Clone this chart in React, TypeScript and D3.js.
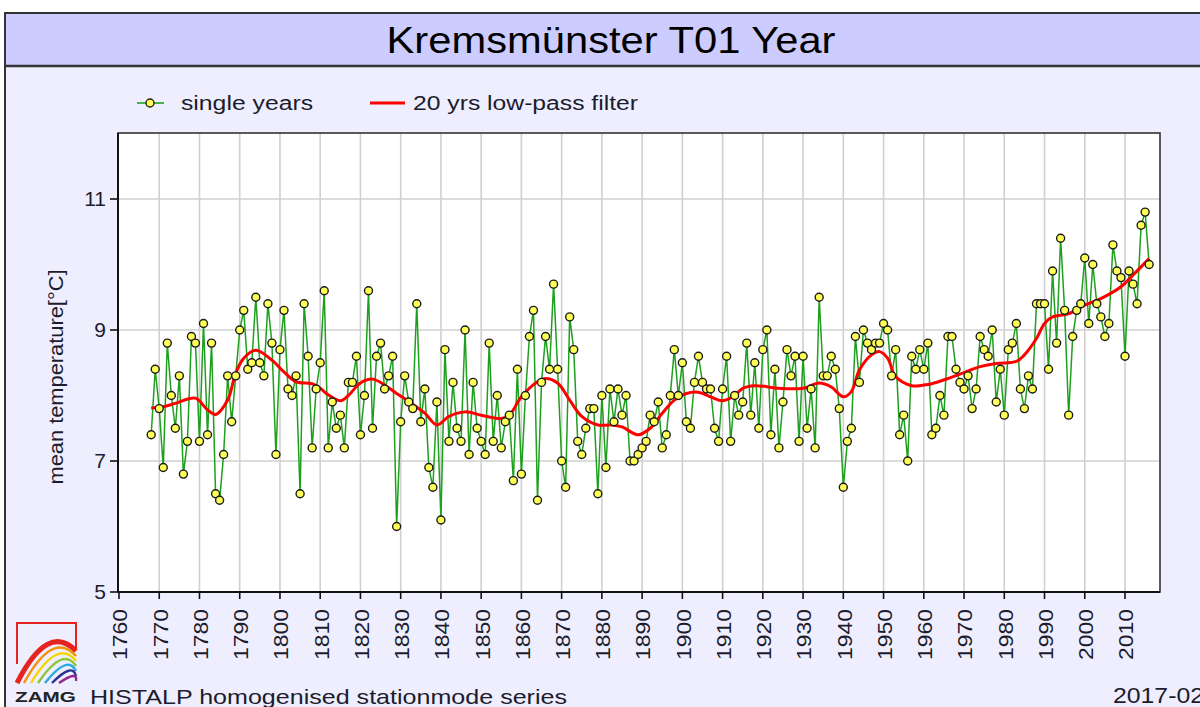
import React from "react";
import * as d3 from "d3";

const START_YEAR = 1768;
// annual mean temperature, 1768..2016
const annualMeans = [
  7.4, 8.4, 7.8, 6.9, 8.8, 8.0, 7.5, 8.3, 6.8, 7.3, 8.9, 8.8,
  7.3, 9.1, 7.4, 8.8, 6.5, 6.4, 7.1, 8.3, 7.6, 8.3,
  9.0, 9.3, 8.4, 8.5, 9.5, 8.5, 8.3, 9.4, 8.8, 7.1,
  8.7, 9.3, 8.1, 8.0, 8.3, 6.5, 9.4, 8.6, 7.2, 8.1,
  8.5, 9.6, 7.2, 7.9, 7.5, 7.7, 7.2, 8.2, 8.2, 8.6,
  7.4, 8.0, 9.6, 7.5, 8.6, 8.8, 8.1, 8.3, 8.6, 6.0,
  7.6, 8.3, 7.9, 7.8, 9.4, 7.6, 8.1, 6.9, 6.6, 7.9,
  6.1, 8.7, 7.3, 8.2, 7.5, 7.3, 9.0, 7.1, 8.2, 7.5,
  7.3, 7.1, 8.8, 7.3, 8.0, 7.2, 7.6, 7.7, 6.7, 8.4,
  6.8, 8.0, 8.9, 9.3, 6.4, 8.2, 8.9, 8.4, 9.7, 8.4,
  7.0, 6.6, 9.2, 8.7, 7.3, 7.1, 7.5, 7.8, 7.8, 6.5,
  8.0, 6.9, 8.1, 7.6, 8.1, 7.7, 8.0, 7.0, 7.0, 7.1,
  7.2, 7.3, 7.7, 7.6, 7.9, 7.2, 7.4, 8.0, 8.7, 8.0,
  8.5, 7.6, 7.5, 8.2, 8.6, 8.2, 8.1, 8.1, 7.5, 7.3,
  8.1, 8.6, 7.3, 8.0, 7.7, 7.9, 8.8, 7.7, 8.5, 7.5,
  8.7, 9.0, 7.4, 8.4, 7.2, 7.9, 8.7, 8.3, 8.6, 7.3,
  8.6, 7.5, 8.1, 7.2, 9.5, 8.3, 8.3, 8.6, 8.4, 7.8,
  6.6, 7.3, 7.5, 8.9, 8.2, 9.0, 8.8, 8.7, 8.8, 8.8,
  9.1, 9.0, 8.3, 8.7, 7.4, 7.7, 7.0, 8.6, 8.4, 8.7,
  8.4, 8.8, 7.4, 7.5, 8.0, 7.7, 8.9, 8.9, 8.4, 8.2,
  8.1, 8.3, 7.8, 8.1, 8.9, 8.7, 8.6, 9.0, 7.9, 8.4,
  7.7, 8.7, 8.8, 9.1, 8.1, 7.8, 8.3, 8.1, 9.4, 9.4,
  9.4, 8.4, 9.9, 8.8, 10.4, 9.3, 7.7, 8.9, 9.3, 9.4,
  10.1, 9.1, 10.0, 9.4, 9.2, 8.9, 9.1, 10.3, 9.9, 9.8,
  8.6, 9.9, 9.7, 9.4, 10.6, 10.8, 10.0,
];

// 20 yrs low-pass filter
const filterYears = [
  1768, 1771, 1774, 1779, 1782, 1784, 1787, 1789, 1791, 1794, 1798, 1801, 1804,
  1808, 1810, 1812, 1815, 1817, 1820, 1823, 1826, 1829, 1832, 1836, 1839, 1842,
  1846, 1850, 1855, 1857, 1860, 1864, 1866, 1869, 1872, 1875, 1879, 1882, 1885,
  1889, 1892, 1895, 1898, 1901, 1904, 1907, 1910, 1913, 1915, 1918, 1924, 1930,
  1934, 1937, 1940, 1942, 1944, 1947, 1949, 1951, 1953, 1957, 1960, 1962, 1966,
  1970, 1974, 1978, 1983, 1985, 1988, 1990, 1992, 1996, 2000, 2004, 2009, 2012,
  2016,
];
const filterValues = [
  7.81, 7.83, 7.88, 7.96, 7.78, 7.71, 7.93, 8.34, 8.57, 8.69, 8.54, 8.36, 8.21,
  8.18, 8.11, 8.01, 7.92, 8.0, 8.19, 8.25, 8.16, 8.03, 7.91, 7.73, 7.55, 7.68,
  7.75, 7.7, 7.65, 7.7, 7.98, 8.21, 8.26, 8.19, 7.93, 7.68, 7.55, 7.55, 7.52,
  7.4, 7.5, 7.73, 7.93, 8.03, 8.05, 7.98, 7.92, 8.0, 8.11, 8.15, 8.11, 8.11,
  8.19, 8.13, 7.98, 8.06, 8.39, 8.62, 8.67, 8.57, 8.29, 8.15, 8.16, 8.18, 8.26,
  8.35, 8.44, 8.49, 8.52, 8.62, 8.87, 9.1, 9.2, 9.25, 9.38, 9.48, 9.66, 9.84,
  10.09,
];

const xTickYears = [
  1760, 1770, 1780, 1790, 1800, 1810, 1820, 1830, 1840, 1850, 1860, 1870, 1880,
  1890, 1900, 1910, 1920, 1930, 1940, 1950, 1960, 1970, 1980, 1990, 2000, 2010,
];
const yTicks = [5, 7, 9, 11];

const FONT = "'Liberation Sans', Arial, sans-serif";
const TEXT = "#1c1c2c";

export default function App() {
  const plot = { left: 118, right: 1160, top: 133, bottom: 592 };
  const x = d3.scaleLinear().domain([1760, 2010]).range([119, 1125]);
  const y = d3.scaleLinear().domain([5, 11]).range([592, 199]);

  const pts: [number, number][] = annualMeans.map((v, i) => [START_YEAR + i, v]);
  const filt: [number, number][] = filterYears.map((yr, i) => [yr, filterValues[i]]);

  const line = d3
    .line<[number, number]>()
    .x((d) => x(d[0]))
    .y((d) => y(d[1]));
  const smooth = d3
    .line<[number, number]>()
    .x((d) => x(d[0]))
    .y((d) => y(d[1]))
    .curve(d3.curveCatmullRom.alpha(0.5));

  const rainbow = ["#e52421", "#f39200", "#f6d600", "#8cc63f", "#29abe2", "#2e3192", "#93278f"];

  return (
    <div style={{ position: "absolute", left: 0, top: 0 }}>
      <svg width={1200} height={707} style={{ display: "block" }}>
        <rect x={0} y={0} width={1200} height={707} fill="#ffffff" />
        {/* frame */}
        <rect x={5} y={13} width={1210} height={710} fill="#eeeeff" stroke="#333" strokeWidth={2} />
        <rect x={6} y={14} width={1200} height={52} fill="#ccccff" />
        <line x1={5} x2={1200} y1={66} y2={66} stroke="#333" strokeWidth={2.5} />
        <text
          x={611}
          y={53}
          textAnchor="middle"
          fontFamily={FONT}
          fontSize={37}
          fill="#000"
          textLength={449}
          lengthAdjust="spacingAndGlyphs"
        >
          Kremsmünster T01 Year
        </text>

        {/* legend */}
        <line x1={137} x2={164} y1={103} y2={103} stroke="#22a022" strokeWidth={1.6} />
        <circle cx={150} cy={103} r={4} fill="#ffff55" stroke="#222" strokeWidth={1.4} />
        <text x={181} y={110} fontFamily={FONT} fontSize={20} fill={TEXT} textLength={132} lengthAdjust="spacingAndGlyphs">
          single years
        </text>
        <line x1={370} x2={405} y1={103} y2={103} stroke="#ff0000" strokeWidth={3.2} />
        <text x={413} y={110} fontFamily={FONT} fontSize={20} fill={TEXT} textLength={225} lengthAdjust="spacingAndGlyphs">
          20 yrs low-pass filter
        </text>

        {/* plot area */}
        <rect
          x={plot.left}
          y={plot.top}
          width={plot.right - plot.left}
          height={plot.bottom - plot.top}
          fill="#ffffff"
        />
        {xTickYears
          .filter((t) => t > 1760)
          .map((t) => (
            <line key={"gx" + t} x1={x(t)} x2={x(t)} y1={plot.top} y2={plot.bottom} stroke="#d0d0d0" strokeWidth={1.6} />
          ))}
        {yTicks
          .filter((t) => t > 5)
          .map((t) => (
            <line key={"gy" + t} x1={plot.left} x2={plot.right} y1={y(t)} y2={y(t)} stroke="#d0d0d0" strokeWidth={1.6} />
          ))}
        <rect
          x={plot.left}
          y={plot.top}
          width={plot.right - plot.left}
          height={plot.bottom - plot.top}
          fill="none"
          stroke="#333"
          strokeWidth={1.6}
        />
        <line x1={plot.left} x2={plot.right} y1={plot.bottom} y2={plot.bottom} stroke="#111" strokeWidth={2} />
        <line x1={plot.left} x2={plot.left} y1={plot.top} y2={plot.bottom} stroke="#111" strokeWidth={2} />

        {/* series */}
        <path d={line(pts) || ""} fill="none" stroke="#1ea01e" strokeWidth={1.5} />
        <path d={smooth(filt) || ""} fill="none" stroke="#ff0000" strokeWidth={3} />
        {pts.map((d) => (
          <circle key={"p" + d[0]} cx={x(d[0])} cy={y(d[1])} r={4} fill="#ffff55" stroke="#1a1a1a" strokeWidth={1.4} />
        ))}

        {/* x axis */}
        {xTickYears.map((t) => (
          <g key={"xt" + t}>
            <line x1={x(t)} x2={x(t)} y1={plot.bottom} y2={plot.bottom + 7} stroke="#111" strokeWidth={1.6} />
            <text
              transform={`translate(${x(t) + 1},${609}) rotate(-90)`}
              textAnchor="end"
              dy="0.35em"
              fontFamily={FONT}
              fontSize={21}
              fill={TEXT}
              textLength={51}
              lengthAdjust="spacingAndGlyphs"
            >
              {t}
            </text>
          </g>
        ))}

        {/* y axis */}
        {yTicks.map((t) => (
          <g key={"yt" + t}>
            <line x1={plot.left - 8} x2={plot.left} y1={y(t)} y2={y(t)} stroke="#111" strokeWidth={1.6} />
            <text x={106} y={y(t)} dy="0.35em" textAnchor="end" fontFamily={FONT} fontSize={21} fill={TEXT}>
              {t}
            </text>
          </g>
        ))}
        <text
          transform="translate(56,377) rotate(-90)"
          textAnchor="middle"
          dy="0.35em"
          fontFamily={FONT}
          fontSize={20}
          fill={TEXT}
          textLength={215}
          lengthAdjust="spacingAndGlyphs"
        >
          mean temperature[°C]
        </text>

        {/* logo */}
        <path d="M17,664 V623 H76 V648" fill="none" stroke="#e52421" strokeWidth={2} />
        {rainbow.map((c, i) => (
          <path
            key={"rb" + i}
            d={`M${17 + i * 7},${683} Q${48 + i * 5},${622 + i * 8} ${76},${651 + i * 5}`}
            fill="none"
            stroke={c}
            strokeWidth={i === 0 ? 5 : 2.4}
          />
        ))}
        <text x={15} y={702} fontFamily={FONT} fontSize={15} fontWeight="bold" fill="#222" textLength={61} lengthAdjust="spacingAndGlyphs">
          ZAMG
        </text>

        {/* footer */}
        <text x={90} y={704} fontFamily={FONT} fontSize={21} fill={TEXT} textLength={477} lengthAdjust="spacingAndGlyphs">
          HISTALP homogenised stationmode series
        </text>
        <text x={1113} y={703} fontFamily={FONT} fontSize={22} fill={TEXT} textLength={91} lengthAdjust="spacingAndGlyphs">
          2017-02
        </text>
      </svg>
    </div>
  );
}
